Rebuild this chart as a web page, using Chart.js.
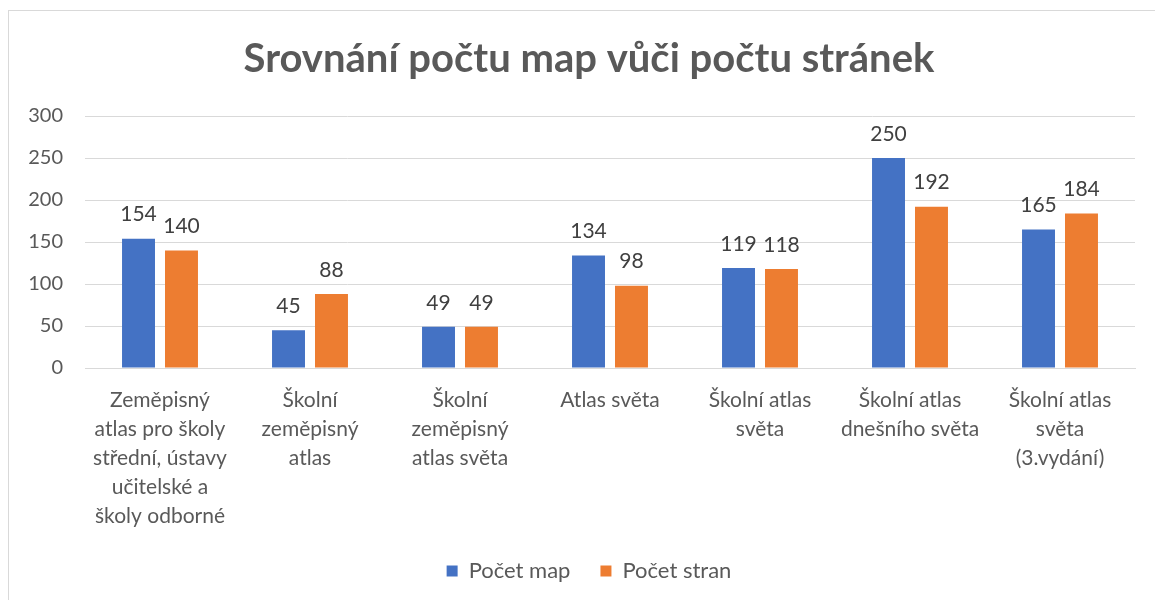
<!DOCTYPE html>
<html>
<head>
<meta charset="utf-8">
<script src="https://cdn.jsdelivr.net/npm/chart.js"></script>
<style>
  body { margin: 0; background: #fff; overflow: hidden; }
  #frame { position: absolute; left: 8px; top: 10px; width: 1170px; height: 620px; border: 1px solid #d9d9d9; }
  #wrap { position: absolute; left: 8px; top: 0; width: 1162px; height: 600px; }
</style>
</head>
<body>
<div id="frame"></div>
<div id="wrap"><canvas id="mycanvas" width="1162" height="600"></canvas></div>
<script>
var categories = [
  ["Zeměpisný", "atlas pro školy", "střední, ústavy", "učitelské a", "školy odborné"],
  ["Školní", "zeměpisný", "atlas"],
  ["Školní", "zeměpisný", "atlas světa"],
  ["Atlas světa"],
  ["Školní atlas", "světa"],
  ["Školní atlas", "dnešního světa"],
  ["Školní atlas", "světa", "(3.vydání)"]
];
var pocetMap = [154, 45, 49, 134, 119, 250, 165];
var pocetStran = [140, 88, 49, 98, 118, 192, 184];
var yTicks = [0, 50, 100, 150, 200, 250, 300];

var fontName = "Lato, 'Open Sans', sans-serif";

// labels above bars
var valueLabels = {
  id: 'valueLabels',
  afterDatasetsDraw: function (chart) {
    var ctx = chart.ctx;
    ctx.save();
    ctx.font = "21px " + fontName;
    ctx.fillStyle = "#404040";
    ctx.textAlign = "center";
    ctx.textBaseline = "middle";
    chart.data.datasets.forEach(function (ds, i) {
      var meta = chart.getDatasetMeta(i);
      meta.data.forEach(function (bar, j) {
        ctx.fillText(ds.data[j], bar.x, bar.y - 24);
      });
    });
    ctx.restore();
  }
};

var ctx = document.getElementById("mycanvas");
var barGraph = new Chart(ctx, {
  type: 'bar',
  data: {
    labels: categories,
    datasets: [
      { label: 'Počet map', data: pocetMap, backgroundColor: '#4472C4' },
      { label: 'Počet stran', data: pocetStran, backgroundColor: '#ED7D31' }
    ]
  },
  options: {
    responsive: false,
    animation: false,
    categoryPercentage: 0.573,
    barPercentage: 0.767,
    layout: { padding: { left: 0, right: 0, top: 0, bottom: 8 } },
    plugins: {
      title: {
        display: true,
        text: 'Srovnání počtu map vůči počtu stránek',
        color: '#595959',
        font: { family: fontName, size: 40, weight: 'bold' },
        padding: { top: 35, bottom: 33 }
      },
      legend: {
        position: 'bottom',
        labels: {
          boxWidth: 11,
          boxHeight: 11,
          padding: 30,
          color: '#595959',
          font: { family: fontName, size: 22 }
        }
      },
      tooltip: { enabled: false }
    },
    scales: {
      y: {
        min: 0,
        max: 300,
        afterFit: function (scale) { scale.width = 77; },
        afterBuildTicks: function (scale) {
          scale.ticks = yTicks.map(function (v) { return { value: v }; });
        },
        border: { display: false },
        grid: { color: '#d9d9d9', drawTicks: false },
        ticks: { padding: 22, color: '#595959', font: { family: fontName, size: 20 } }
      },
      // empty right margin so title and legend centre like the original
      yRight: {
        type: 'linear',
        position: 'right',
        afterFit: function (scale) { scale.width = 35; },
        border: { display: false },
        grid: { display: false, drawTicks: false },
        ticks: { display: false }
      },
      x: {
        afterFit: function (scale) { scale.height = 162; },
        border: { color: '#d9d9d9' },
        grid: { display: false },
        ticks: {
          padding: 10,
          maxRotation: 0,
          autoSkip: false,
          color: '#595959',
          font: { family: fontName, size: 21, lineHeight: 1.38 }
        }
      }
    }
  },
  plugins: [valueLabels]
});
</script>
</body>
</html>
